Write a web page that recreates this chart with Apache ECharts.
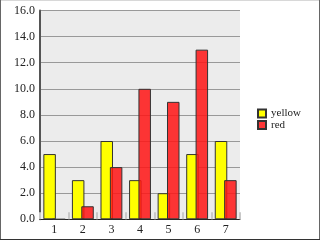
<!DOCTYPE html>
<html><head><meta charset="utf-8">
<script src="https://cdn.jsdelivr.net/npm/echarts@6/dist/echarts.min.js"></script>
<style>html,body{margin:0;padding:0;background:#fff}#c{width:320px;height:240px}</style>
</head><body><div id="c"></div>
<script>
const categories = ['1','2','3','4','5','6','7'];
const yellowValues = [5,3,6,3,2,5,6];
const redValues = [0,1,4,10,9,13,3];
const seriesNames = ['yellow','red'];
const FONT = 'Liberation Serif';
const chart = echarts.init(document.getElementById('c'), null, {renderer:'canvas'});
chart.setOption({
  animation:false,
  backgroundColor:'#fff',
  textStyle:{fontFamily:FONT},
  grid:{left:40,right:80,top:10.5,bottom:20.7,show:true,backgroundColor:'#ececec',borderWidth:0},
  legend:{orient:'vertical',left:257,top:108,padding:0,itemWidth:8,itemHeight:8,itemGap:0.5,icon:'rect',
    textStyle:{fontFamily:FONT,fontSize:11,color:'#222',padding:[0,0,0,0]},data:seriesNames},
  xAxis:{type:'category',data:categories,boundaryGap:true,
    axisLine:{show:true,lineStyle:{color:'#222',width:1}},
    axisTick:{show:true,inside:true,length:7,lineStyle:{color:'#c8c8c8',width:2}},
    axisLabel:{fontFamily:FONT,fontSize:12,color:'#222',margin:5},
    splitLine:{show:false}},
  yAxis:{type:'value',min:0,max:16,interval:2,
    axisLine:{show:true,lineStyle:{color:'#555',width:2}},
    axisTick:{show:false},
    axisLabel:{fontFamily:FONT,fontSize:12,color:'#222',margin:5,formatter:v=>v.toFixed(1)},
    splitLine:{show:true,lineStyle:{color:'#999',width:1}}},
  series:[
    {name:seriesNames[0],type:'bar',data:yellowValues,barWidth:12.5,barGap:'-25%',
      itemStyle:{color:'#ffff00',borderColor:'#333',borderWidth:1}},
    {name:seriesNames[1],type:'bar',data:redValues,barWidth:12.5,
      itemStyle:{color:'rgba(255,20,20,0.85)',borderColor:'#333',borderWidth:1}}
  ],
  graphic:[
    {type:'line',shape:{x1:0,y1:0.5,x2:320,y2:0.5},style:{stroke:'#d8d8d8',lineWidth:1}},
    {type:'line',shape:{x1:0.5,y1:0,x2:0.5,y2:240},style:{stroke:'#666',lineWidth:1}},
    {type:'line',shape:{x1:319.5,y1:0,x2:319.5,y2:240},style:{stroke:'#666',lineWidth:1}},
    {type:'line',shape:{x1:0,y1:239.5,x2:320,y2:239.5},style:{stroke:'#333',lineWidth:1}}
  ]
});
</script></body></html>
